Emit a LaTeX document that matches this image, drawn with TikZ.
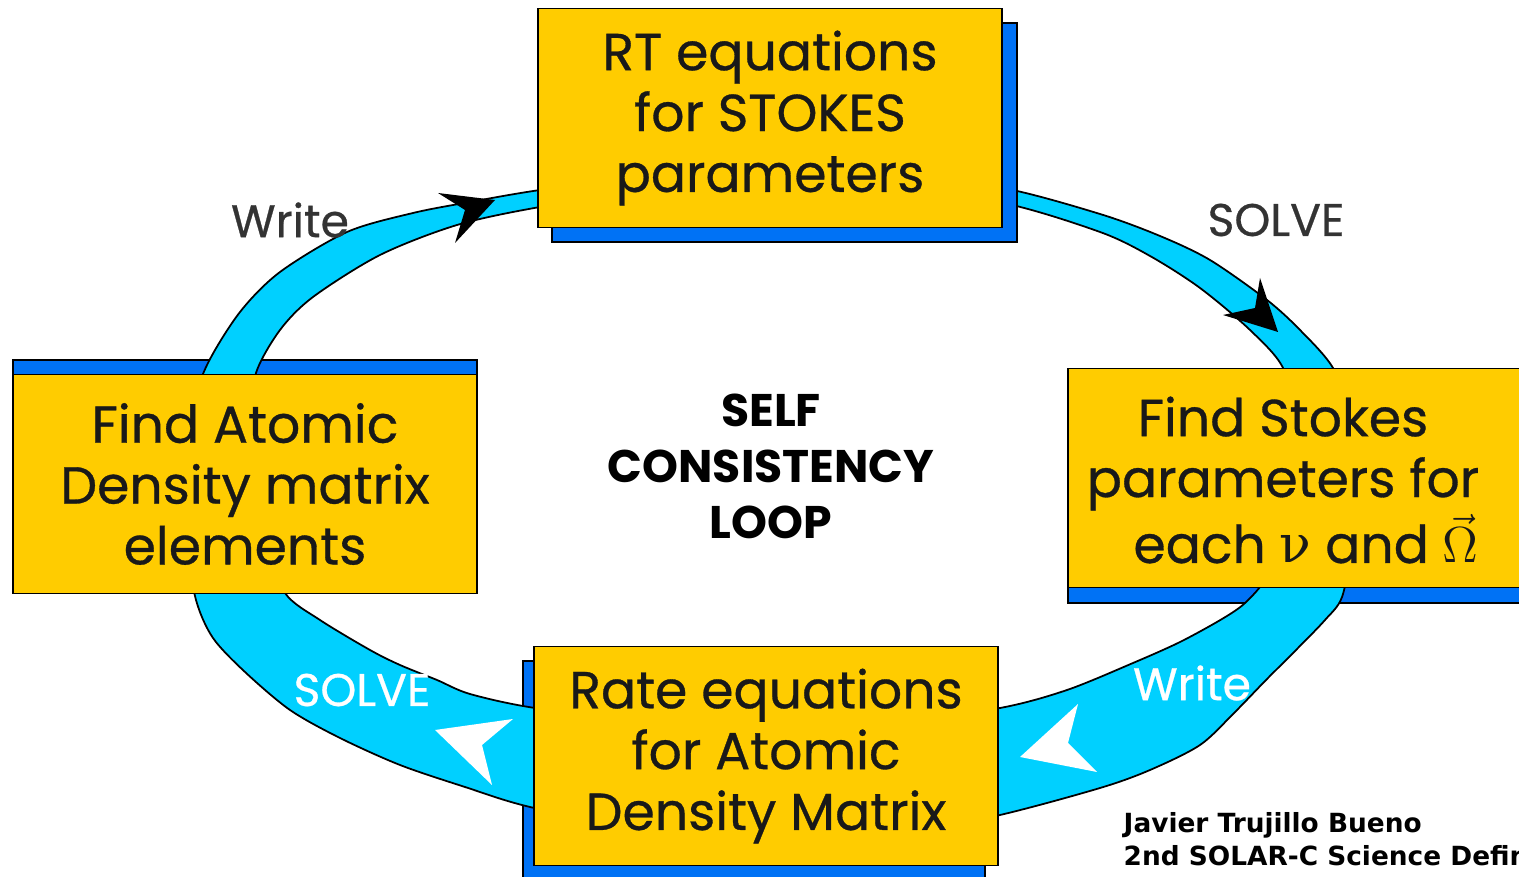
\documentclass[tikz,border=0pt]{standalone}
\usepackage{fontspec}
\setmainfont{Poppins}
\newfontfamily\boxfont{Poppins}[FakeBold=0.6]
\newfontfamily\greekfont{DejaVu Serif}
\newfontfamily\creditfont{DejaVu Sans}
\usetikzlibrary{positioning}

\definecolor{boxyellow}{RGB}{255,204,0}
\definecolor{shadeblue}{RGB}{0,114,245}
\definecolor{bandcyan}{RGB}{0,208,255}
\definecolor{labelgray}{RGB}{51,51,51}

\tikzset{
  stepbox/.style={draw=black, line width=0.5pt, fill=boxyellow,
    minimum width=4.64cm, minimum height=2.19cm, inner sep=0pt},
  boxtext/.style={align=center, inner sep=0pt, text=black!90,
    font=\boxfont\fontsize{14.8}{17.3}\selectfont},
  shadowbox/.style={draw=black, line width=0.5pt, fill=shadeblue},
  band/.style={draw=black, line width=0.5pt, fill=bandcyan, even odd rule},
  looplabel/.style={font=\boxfont\fontsize{13}{15}\selectfont, text=labelgray},
  inlabel/.style={font=\boxfont\fontsize{13}{15}\selectfont, text=white},
}

\begin{document}
\begin{tikzpicture}[x=0.01cm, y=-0.01cm]
  \useasboundingbox (0,0) rectangle (1519,877);

  % blue shadows lying under the ring
  \draw[shadowbox] (13,360) rectangle (477,578);
  \draw[shadowbox] (1068,384) rectangle (1532,603);
  \draw[shadowbox] (523,661) rectangle (985,880);

  % the ring, thin on top and wide below
  \draw[band] plot[smooth cycle] coordinates {
      (770,167) (880,172) (1003,188) (1100,214) (1160,236) (1210,260)
      (1267,300) (1300,330) (1333,368) (1352,420) (1358,480) (1352,545)
      (1342,597) (1325,620) (1296,650) (1266,680) (1234,713) (1200,745)
      (1150,770) (1100,788) (1000,815) (885,838) (770,846) (655,832)
      (530,807) (465,787) (400,765) (340,738) (290,710) (245,672)
      (213,638) (196,600) (186,540) (183,480) (188,420) (207,365)
      (240,312) (280,272) (347,232) (413,213) (470,202) (540,190)
      (650,176)}
    plot[smooth cycle] coordinates {
      (770,182) (880,188) (1003,203) (1100,232) (1150,256) (1200,288)
      (1250,330) (1283,368) (1292,420) (1292,480) (1282,535) (1266,578)
      (1245,603) (1222,619) (1180,642) (1133,663) (1067,690) (1000,708)
      (885,724) (770,728) (655,722) (535,708) (470,694) (437,680)
      (400,665) (370,650) (320,620) (285,593) (265,540) (254,480)
      (252,420) (256,373) (280,330) (313,297) (380,255) (457,225)
      (540,207) (650,191)};

  \draw[shadowbox] (552,23) rectangle (1017,242);

  % the four steps
  \node[stepbox] (rt) at (770,118) {};
  \node[boxtext] (rttext) at (rt.center)
    {RT equations\\for STOKES\\parameters};
  \node[stepbox] (stokes) at (1300,478) {};
  \node[boxtext] (stokestext) at (1283,480)
    {Find Stokes\\parameters for\\\hspace*{0.46cm}each {\greekfont ν} and $\vec{\Omega}$};
  \node[stepbox] (rate) at (766,756) {};
  \node[boxtext] (ratetext) at (rate.center)
    {Rate equations\\for Atomic\\Density Matrix};
  \node[stepbox] (atomic) at (245,484) {};
  \node[boxtext] (atomictext) at (atomic.center)
    {Find Atomic\\Density matrix\\elements};

  % arrow heads on the ring
  \fill[black] (438,193) -- (495,200) -- (455,243) -- (465,210) -- cycle;
  \fill[black] (1260,278) -- (1278,332) -- (1223,315) -- (1255,308) -- cycle;
  \fill[white] (1020,757) -- (1078,704) -- (1068,743) -- (1097,772) -- cycle;
  \fill[white] (435,730) -- (513,719) -- (482,745) -- (492,785) -- cycle;

  % labels
  \node[looplabel] (write1) at (290,220) {Write};
  \node[looplabel] (solve1) at (1276,220) {SOLVE};
  \node[inlabel] (write2) at (1192,683) {Write};
  \node[inlabel] (solve2) at (362,690) {SOLVE};

  \node[align=center, font=\bfseries\fontsize{13}{15.9}\selectfont]
    (loop) at (771,466) {SELF\\CONSISTENCY\\LOOP};

  \node[anchor=north west, align=left, inner sep=0pt,
    font=\creditfont\bfseries\fontsize{7.5}{9.4}\selectfont]
    (credit) at (1123,812) {Javier Trujillo Bueno\\2nd SOLAR-C Science Definition};
\end{tikzpicture}
\end{document}
